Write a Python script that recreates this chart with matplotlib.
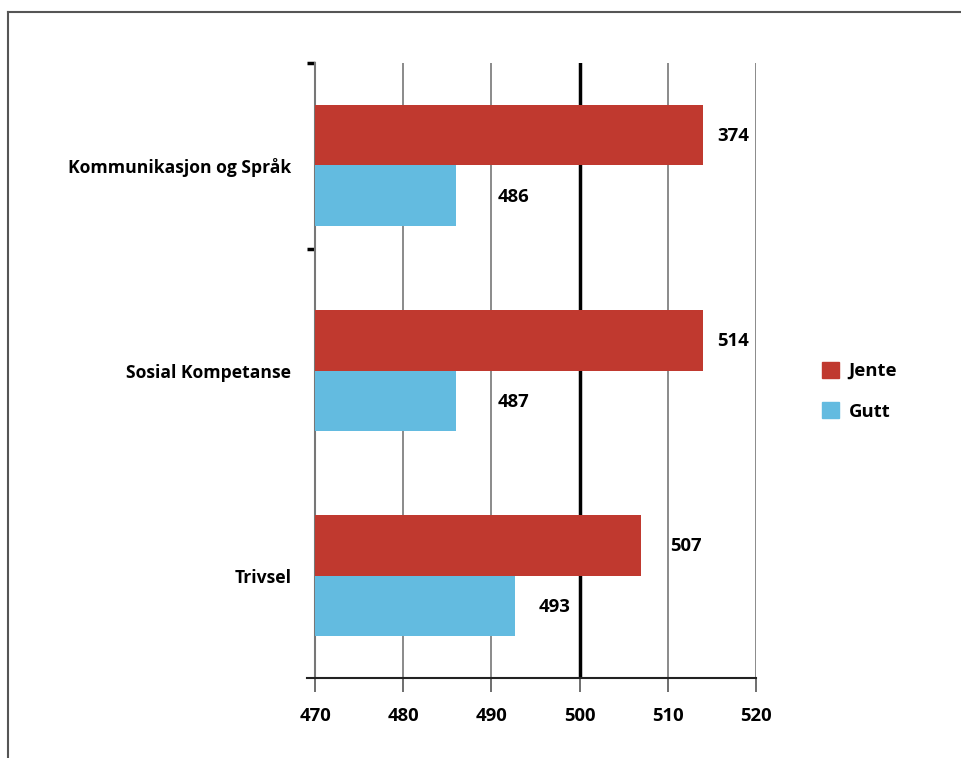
import matplotlib
matplotlib.use("Agg")
import matplotlib.pyplot as plt
from matplotlib.lines import Line2D
from matplotlib.patches import Patch
import numpy as np

# data
kategorier = ["Kommunikasjon og Språk", "Sosial Kompetanse", "Trivsel"]
jente = [514, 514, 507]
gutt = [486, 486, 492.7]
jente_tekst = ["374", "514", "507"]
gutt_tekst = ["486", "487", "493"]

rod = "#c0392f"
bla = "#63bbe0"

plt.rcParams["font.family"] = ["Open Sans", "DejaVu Sans"]
plt.rcParams["font.weight"] = "bold"

fig = plt.figure(figsize=(9.61, 7.58), dpi=100)
ax = fig.add_axes([0.3278, 0.1055, 0.4589, 0.8114])

y = np.arange(len(kategorier))
h = 0.295
start = 470
ax.barh(y - h / 2, np.array(jente) - start, height=h, left=start, color=rod, zorder=3)
ax.barh(y + h / 2, np.array(gutt) - start, height=h, left=start, color=bla, zorder=3)

# verdietiketter (plassert litt til hoyre for stolpen)
jente_pad = [1.6, 1.6, 3.3]
gutt_pad = [4.7, 4.7, 2.6]
fs = 13.3
for i in range(len(kategorier)):
    ax.text(jente[i] + jente_pad[i], y[i] - h / 2 + 0.005, jente_tekst[i],
            va="center", ha="left", fontsize=fs, fontweight="bold")
    ax.text(gutt[i] + gutt_pad[i], y[i] + h / 2 + 0.005, gutt_tekst[i],
            va="center", ha="left", fontsize=fs, fontweight="bold")

ax.set_xlim(470, 520)
ax.set_ylim(2.5, -0.5)
ax.set_xticks(range(470, 521, 10))
for x in range(480, 521, 10):
    if x == 500:
        ax.axvline(x, color="black", lw=2.5, zorder=2)
    else:
        ax.axvline(x, color="#777777", lw=1.2, zorder=2)

ax.set_yticks(y)
ax.set_yticklabels(kategorier, fontsize=12.6, fontweight="bold")
ax.tick_params(axis="y", which="major", length=0, pad=17)
ax.set_yticks([-0.5, 0.405], minor=True)
ax.tick_params(axis="y", which="minor", length=6, width=2.5, color="black")
ax.tick_params(axis="x", length=10, width=1.2, color="#555555", pad=11, labelsize=fs)
for lbl in ax.get_xticklabels():
    lbl.set_fontweight("bold")

for s in ["top", "right"]:
    ax.spines[s].set_visible(False)
ax.spines["left"].set_color("#777777")
ax.spines["left"].set_linewidth(1.5)
ax.spines["bottom"].set_color("#222222")
ax.spines["bottom"].set_linewidth(1.5)
ax.spines["bottom"].set_bounds(469.1, 520)

handles = [Patch(color=rod, label="Jente"), Patch(color=bla, label="Gutt")]
fig.legend(handles=handles, loc="center left", bbox_to_anchor=(0.838, 0.484),
           frameon=False, handlelength=0.95, handleheight=0.95, labelspacing=1.2,
           handletextpad=0.5, prop={"size": fs, "weight": "bold"})

# ramme rundt figuren
fig.add_artist(Line2D([0.0083, 0.0083], [0, 0.984], color="#555555", lw=1.5))
fig.add_artist(Line2D([0.0083, 1.0], [0.984, 0.984], color="#555555", lw=1.5))

fig.savefig("out.png", dpi=100)
